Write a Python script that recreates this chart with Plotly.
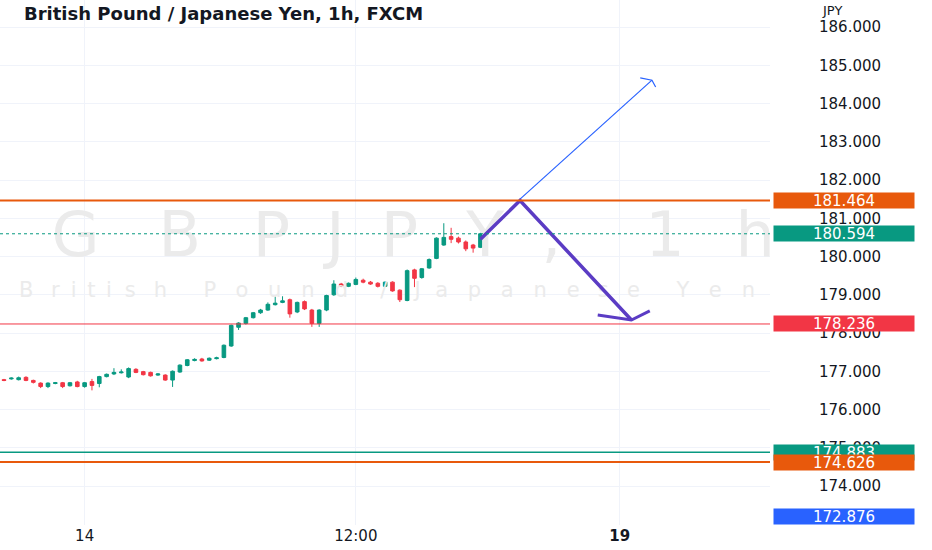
import plotly.graph_objects as go

# GBPJPY 1h candles
opens = [176.78, 176.80, 176.78, 176.84, 176.76, 176.69, 176.60, 176.68, 176.70, 176.62,
         176.72, 176.60, 176.73, 176.68, 176.86, 176.93, 176.96, 176.85, 177.05, 176.99,
         176.97, 176.90, 176.90, 176.77, 176.98, 177.15, 177.28, 177.32, 177.29, 177.33,
         177.36, 177.66, 178.15, 178.25, 178.40, 178.53, 178.60, 178.74, 178.80, 178.87,
         178.55, 178.82, 178.60, 178.25, 178.60, 179.00, 179.28, 179.22, 179.27, 179.38,
         179.33, 179.30, 179.22, 179.33, 179.12, 178.85, 179.65, 179.45, 179.70, 179.95,
         180.30, 180.52, 180.48, 180.38, 180.30, 180.24]
highs = [176.80, 176.84, 176.86, 176.87, 176.78, 176.71, 176.71, 176.72, 176.72, 176.72,
         176.75, 176.72, 176.80, 176.88, 176.94, 177.08, 177.05, 177.10, 177.08, 177.01,
         176.99, 176.95, 176.92, 177.02, 177.18, 177.32, 177.34, 177.35, 177.36, 177.38,
         177.70, 178.22, 178.28, 178.42, 178.55, 178.63, 178.80, 178.96, 178.96, 178.90,
         178.82, 178.85, 178.63, 178.62, 179.00, 179.38, 179.31, 179.32, 179.45, 179.42,
         179.36, 179.33, 179.35, 179.35, 179.14, 179.66, 179.68, 179.70, 179.95, 180.50,
         180.87, 180.75, 180.52, 180.42, 180.33, 180.62]
lows = [176.74, 176.78, 176.76, 176.74, 176.68, 176.56, 176.56, 176.66, 176.56, 176.60,
        176.58, 176.57, 176.50, 176.58, 176.84, 176.90, 176.94, 176.82, 176.95, 176.89,
        176.86, 176.88, 176.75, 176.59, 176.96, 177.13, 177.26, 177.25, 177.27, 177.31,
        177.34, 177.64, 178.08, 178.22, 178.38, 178.50, 178.58, 178.72, 178.78, 178.40,
        178.52, 178.60, 178.16, 178.16, 178.57, 178.97, 179.20, 179.20, 179.25, 179.30,
        179.26, 179.19, 179.20, 179.08, 178.81, 178.83, 179.20, 179.42, 179.68, 179.93,
        180.28, 180.35, 180.34, 180.14, 180.10, 180.22]
closes = [176.76, 176.82, 176.83, 176.76, 176.71, 176.60, 176.69, 176.70, 176.60, 176.70,
          176.60, 176.70, 176.63, 176.86, 176.92, 176.97, 176.98, 177.07, 176.97, 176.91,
          176.88, 176.93, 176.77, 177.00, 177.16, 177.30, 177.31, 177.27, 177.34, 177.35,
          177.68, 178.20, 178.26, 178.40, 178.53, 178.60, 178.75, 178.78, 178.84, 178.50,
          178.80, 178.63, 178.25, 178.60, 178.98, 179.28, 179.22, 179.30, 179.40, 179.33,
          179.28, 179.22, 179.33, 179.10, 178.87, 179.63, 179.43, 179.68, 179.92, 180.48,
          180.50, 180.45, 180.38, 180.20, 180.22, 180.594]
bars = list(range(len(closes)))

# horizontal levels and their price-scale labels
level_prices = [181.464, 178.236, 174.883, 174.626]
level_colors = ['#e8590c', '#f23645', '#089981', '#e8590c']
level_widths = [2, 1, 1.5, 2]
last_price = 180.594
hidden_price = 172.876

# drawn projections
up_x = [70.4, 88.4]
up_y = [181.50, 184.61]
up_head_x = [86.8, 88.4, 88.9]
up_head_y = [184.67, 184.61, 184.43]
down_x = [65, 70.4, 85.6]
down_y = [180.45, 181.464, 178.34]
down_head_x = [81.0, 85.6, 88.1]
down_head_y = [178.47, 178.34, 178.58]

price_ticks = list(range(174, 187))
time_tickvals = [11, 48, 84]
time_ticktext = ['14', '12:00', '<b>19</b>']

FIG_W, FIG_H = 932, 550
PLOT_W, PLOT_H = 770, 525
XMIN, XMAX = -4 / 7.33, (PLOT_W - 4) / 7.33
YMIN, YMAX = 186 - (PLOT_H - 27) / 38.25, 186 + 27 / 38.25
GREEN, RED = '#089981', '#f23645'
TXT = '#131722'
FONT = 'DejaVu Sans'


def px_to_data(px, py):
    return (XMIN + px / PLOT_W * (XMAX - XMIN),
            YMAX - py / PLOT_H * (YMAX - YMIN))


# rough glyph widths (em) to spread the stretched watermark letters
EM = {'G': .78, 'B': .69, 'P': .6, 'J': .3, 'Y': .61, ',': .32, ' ': .32, '1': .64,
      'h': .63, 'r': .41, 'i': .28, 't': .39, 's': .52, 'o': .61, 'u': .63, 'n': .63,
      'd': .63, '/': .34, 'a': .61, 'p': .63, 'e': .62}


def watermark(text, x0, x1, yc, size):
    w = [EM.get(c, .6) for c in text]
    k = (x1 - x0) / sum(w)
    xs, ys, cs = [], [], []
    x = x0
    for c, cw in zip(text, w):
        if c != ' ':
            dx, dy = px_to_data(x + cw * k / 2, yc)
            xs.append(dx)
            ys.append(dy)
            cs.append(c)
        x += cw * k
    return go.Scatter(x=xs, y=ys, text=cs, mode='text', hoverinfo='skip',
                      textfont=dict(size=size, color='#ebebeb', family=FONT),
                      showlegend=False, cliponaxis=True)


fig = go.Figure()
fig.add_trace(watermark('GBPJPY, 1h', 20, 800, 240, 62))
fig.add_trace(watermark('British Pound / Japanese Yen', 8, 765, 292, 21))

for p, c, w in zip(level_prices, level_colors, level_widths):
    fig.add_shape(type='line', xref='paper', x0=0, x1=1, y0=p, y1=p,
                  line=dict(color=c, width=w))
fig.add_shape(type='line', xref='paper', x0=0, x1=1, y0=last_price, y1=last_price,
              line=dict(color=GREEN, width=1, dash='dot'))

fig.add_trace(go.Candlestick(x=bars, open=opens, high=highs, low=lows, close=closes,
                             increasing=dict(line=dict(color=GREEN, width=1), fillcolor=GREEN),
                             decreasing=dict(line=dict(color=RED, width=1), fillcolor=RED),
                             whiskerwidth=0, showlegend=False))

fig.add_trace(go.Scatter(x=up_x, y=up_y, mode='lines', line=dict(color='#2962ff', width=1.2),
                         showlegend=False, hoverinfo='skip'))
fig.add_trace(go.Scatter(x=up_head_x, y=up_head_y, mode='lines', line=dict(color='#2962ff', width=1.2),
                         showlegend=False, hoverinfo='skip'))
fig.add_trace(go.Scatter(x=down_x, y=down_y, mode='lines', line=dict(color='#5b3cc4', width=3.5),
                         showlegend=False, hoverinfo='skip'))
fig.add_trace(go.Scatter(x=down_head_x, y=down_head_y, mode='lines', line=dict(color='#5b3cc4', width=3),
                         showlegend=False, hoverinfo='skip'))

# price-scale tags
tags = list(zip(level_prices, level_colors)) + [(last_price, GREEN)]
for p, c in tags:
    fig.add_annotation(xref='paper', yref='y', x=1, y=p, xanchor='left', yanchor='middle',
                       xshift=3, text=f'{p:.3f}', showarrow=False, bgcolor=c,
                       width=138, height=13, borderpad=1,
                       font=dict(color='white', size=15, family=FONT))
fig.add_annotation(xref='paper', yref='paper', x=1, y=0, xanchor='left', yanchor='bottom',
                   xshift=3, text=f'{hidden_price:.3f}', showarrow=False, bgcolor='#2962ff',
                   width=138, height=13, borderpad=1,
                   font=dict(color='white', size=15, family=FONT))

fig.add_annotation(xref='paper', yref='paper', x=22 / PLOT_W, y=1 - 14 / PLOT_H,
                   xanchor='left', yanchor='middle', showarrow=False,
                   text='<b>British Pound / Japanese Yen, 1h, FXCM</b>',
                   font=dict(color=TXT, size=18, family=FONT))
fig.add_annotation(xref='paper', yref='paper', x=1, y=1 - 10 / PLOT_H, xshift=50,
                   xanchor='left', yanchor='middle', showarrow=False, text='JPY',
                   font=dict(color=TXT, size=13, family=FONT))

fig.update_layout(
    width=FIG_W, height=FIG_H,
    margin=dict(l=0, r=FIG_W - PLOT_W, t=0, b=FIG_H - PLOT_H),
    paper_bgcolor='white', plot_bgcolor='white',
    xaxis=dict(range=[XMIN, XMAX], rangeslider=dict(visible=False),
               tickvals=time_tickvals, ticktext=time_ticktext,
               showgrid=True, gridcolor='#f0f3fa', zeroline=False, showline=False,
               ticks='', tickfont=dict(color=TXT, size=15, family=FONT)),
    yaxis=dict(range=[YMIN, YMAX], side='right', tickvals=price_ticks,
               ticktext=[f'{v:.3f}' for v in price_ticks],
               showgrid=True, gridcolor='#f0f3fa', zeroline=False, showline=False,
               ticks='', ticklabelstandoff=48,
               tickfont=dict(color=TXT, size=15, family=FONT)),
)

# drop the page's default 8px body margin so the figure sits at the window corner
fig.write_html("out.html", config={'displayModeBar': False},
               post_script="document.body.style.margin = '0';")
